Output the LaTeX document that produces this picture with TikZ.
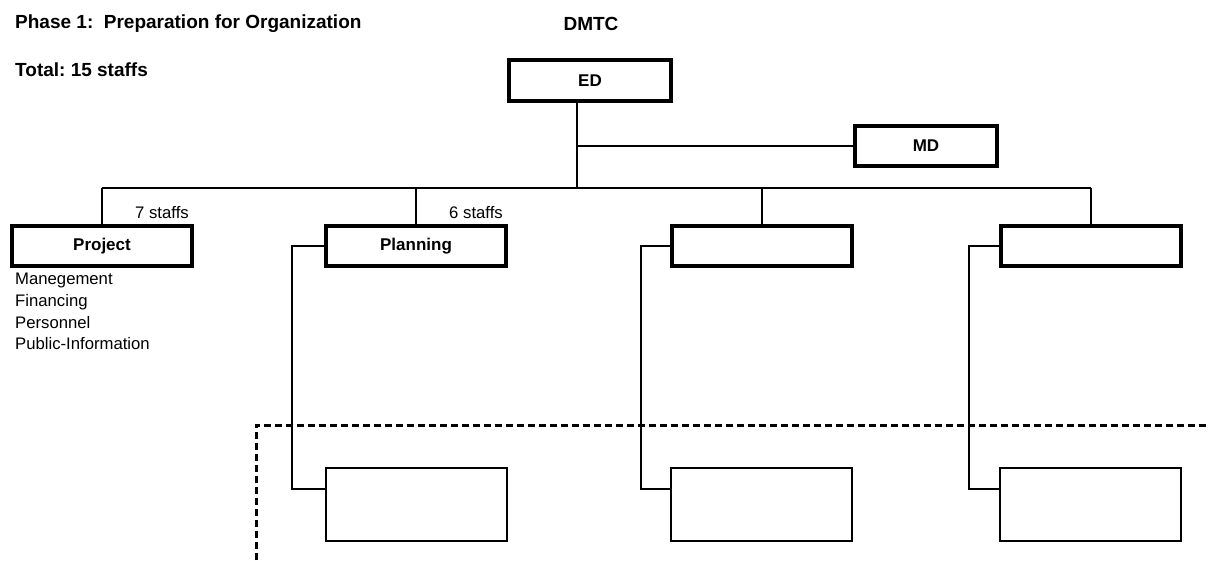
\documentclass[tikz,border=0pt]{standalone}
\usepackage{fontspec}
\setmainfont{Liberation Sans}
\usetikzlibrary{calc}
\frenchspacing
\begin{document}
\begin{tikzpicture}[x=1pt,y=-1pt,
  headbox/.style={draw,line width=4pt,minimum width=180pt,minimum height=40pt,inner sep=0pt,
    font=\fontsize{17}{20}\selectfont\bfseries},
  subbox/.style={draw,line width=2pt,minimum width=181pt,minimum height=73pt,inner sep=0pt},
  link/.style={line width=1.8pt},
  titletext/.style={inner sep=0pt,font=\fontsize{19}{22}\selectfont\bfseries},
  smalltext/.style={inner sep=0pt,font=\fontsize{16.7}{20}\selectfont},
  boundary/.style={line width=3pt,dash pattern=on 7pt off 4pt}]
\fill[white] (0,0) rectangle (1210,560);
\useasboundingbox (0,0) rectangle (1210,560);

% headings
\node[titletext,anchor=west] (phase) at (15,24) {Phase 1:\ \ Preparation for Organization};
\node[titletext] (dmtc) at (591,24) {DMTC};
\node[titletext,anchor=west] (total) at (15,70) {Total: 15 staffs};

% top of the chart
\node[headbox,minimum width=162pt,minimum height=41pt] (ED) at (590,80.5) {ED};
\node[headbox,minimum width=142pt] (MD) at (926,146) {MD};

% department boxes
\node[headbox] (project) at (102,246) {Project};
\node[headbox] (planning) at (416,246) {Planning};
\node[headbox] (dept3) at (762,246) {};
\node[headbox] (dept4) at (1091,246) {};

% lower units
\node[subbox] (low1) at (416.5,504.5) {};
\node[subbox] (low2) at (761.5,504.5) {};
\node[subbox] (low3) at (1090.5,504.5) {};

% trunk, MD branch and bus
\coordinate (trunk) at (577,188);
\coordinate (busL) at (102,188);
\coordinate (busR) at (1091,188);
\draw[link] (ED.south -| trunk) -- (trunk);
\draw[link] (MD.west) -- (MD.west -| trunk);
\draw[link] (busL) -- (busR);
\draw[link] (project.north) -- (project.north |- busL);
\draw[link] (planning.north) -- (planning.north |- busL);
\draw[link] (dept3.north) -- (dept3.north |- busL);
\draw[link] (dept4.north) -- (dept4.north |- busL);

% links down to the lower units
\draw[link] (planning.west) -- ++(-32,0) |- ([yshift=15.5pt]low1.west);
\draw[link] (dept3.west) -- ++(-29,0) |- ([yshift=15.5pt]low2.west);
\draw[link] (dept4.west) -- ++(-30,0) |- ([yshift=15.5pt]low3.west);

% staff counts
\node[smalltext] (s7) at (162,213) {7 staffs};
\node[smalltext] (s6) at (476,213) {6 staffs};

% project duties
\node[smalltext,anchor=base west] (d1) at (15,284) {Manegement};
\node[smalltext,anchor=base west] (d2) at (15,306) {Financing};
\node[smalltext,anchor=base west] (d3) at (15,328) {Personnel};
\node[smalltext,anchor=base west] (d4) at (15,349) {Public-Information};

% dashed boundary
\draw[boundary] (256,560) -- (256,425) -- (1210,425);
\end{tikzpicture}
\end{document}
